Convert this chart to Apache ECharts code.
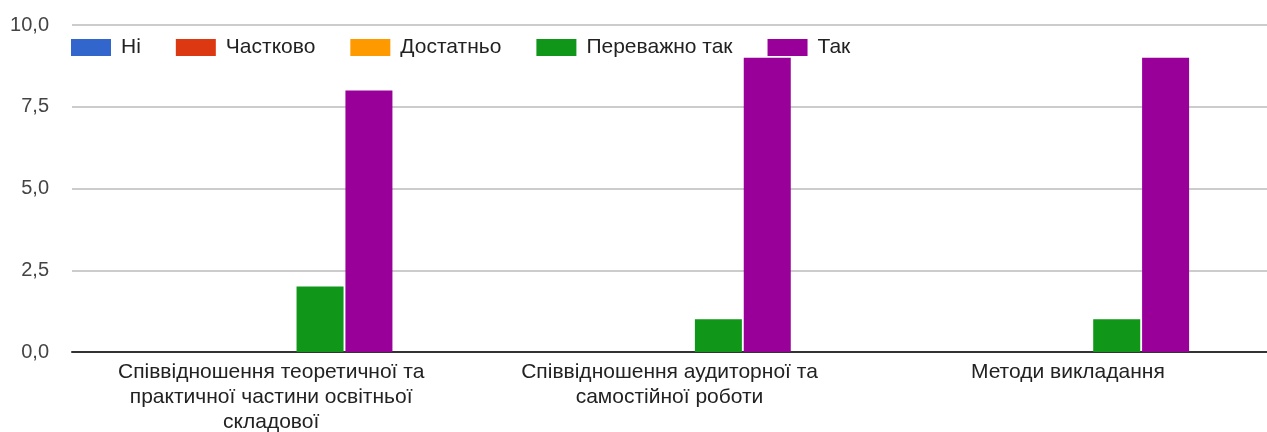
<!DOCTYPE html>
<html>
<head>
<meta charset="utf-8">
<script src="https://cdn.jsdelivr.net/npm/echarts@6/dist/echarts.min.js"></script>
<style>
  html, body { margin: 0; padding: 0; background: #fff; }
  #main { width: 1267px; height: 432px; }
</style>
</head>
<body>
<div id="main"></div>
<script>
// категорії та відповіді
var categories = [
    'Співвідношення теоретичної та практичної частини освітньої складової',
    'Співвідношення аудиторної та самостійної роботи',
    'Методи викладання'
];
var seriesNames = ['Ні', 'Частково', 'Достатньо', 'Переважно так', 'Так'];
var colors = ['#3366cc', '#dc3912', '#ff9900', '#109618', '#990099'];
var ni = [0, 0, 0];
var chastkovo = [0, 0, 0];
var dostatno = [0, 0, 0];
var perevazhno = [2, 1, 1];
var tak = [8, 9, 9];
var yTicks = [0, 2.5, 5, 7.5, 10];

var font = 'Arial, "Liberation Sans", sans-serif';
var values = [ni, chastkovo, dostatno, perevazhno, tak];

// перенос підписів по словах
var ctx = document.createElement('canvas').getContext('2d');
ctx.font = '21px ' + font;
function wrap(text, maxW) {
    var words = text.split(' '), lines = [], cur = '';
    words.forEach(function (w) {
        var t = cur ? cur + ' ' + w : w;
        if (cur && ctx.measureText(t).width > maxW) {
            lines.push(cur);
            cur = w;
        } else {
            cur = t;
        }
    });
    if (cur) lines.push(cur);
    return lines.join('\n');
}

var chart = echarts.init(document.getElementById('main'));
var series = seriesNames.map(function (name, i) {
    return {
        name: name,
        type: 'bar',
        data: values[i],
        barWidth: 47,
        barGap: '4%',
        itemStyle: { color: colors[i] },
        emphasis: { disabled: true }
    };
});

chart.setOption({
    animation: false,
    textStyle: { fontFamily: font },
    color: colors,
    legend: {
        top: 32,
        left: 66,
        itemWidth: 40,
        itemHeight: 17,
        itemGap: 35,
        textStyle: { fontSize: 21, color: '#222', fontFamily: font, padding: [0, 0, 0, 5] },
        icon: 'rect',
        data: seriesNames
    },
    grid: { left: 72, right: 0, top: 25, bottom: 80, containLabel: false, outerBoundsMode: 'none' },
    xAxis: {
        type: 'category',
        data: categories,
        axisTick: { show: false },
        axisLine: { lineStyle: { color: '#333', width: 2 } },
        axisLabel: {
            fontSize: 21,
            color: '#222',
            fontFamily: font,
            lineHeight: 25,
            margin: 8,
            interval: 0,
            hideOverlap: false,
            formatter: function (v) { return wrap(v, 335); }
        }
    },
    yAxis: {
        type: 'value',
        min: yTicks[0],
        max: yTicks[yTicks.length - 1],
        interval: 2.5,
        axisLine: { show: false },
        axisTick: { show: false },
        splitLine: { lineStyle: { color: '#ccc', width: 2 } },
        axisLabel: {
            fontSize: 20,
            color: '#444',
            fontFamily: font,
            margin: 23,
            formatter: function (v) { return v.toFixed(1).replace('.', ','); }
        }
    },
    series: series
});
</script>
</body>
</html>
